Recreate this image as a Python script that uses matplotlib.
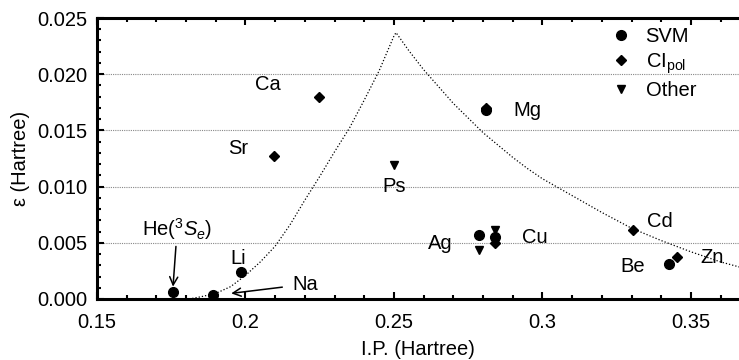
import matplotlib
matplotlib.use("Agg")
import matplotlib.pyplot as plt
from matplotlib.ticker import MultipleLocator, FixedLocator

plt.rcParams['font.family'] = ['Liberation Sans', 'DejaVu Sans']
plt.rcParams['mathtext.fontset'] = 'custom'
plt.rcParams['mathtext.rm'] = 'Liberation Sans'
plt.rcParams['mathtext.it'] = 'Liberation Sans:italic'

# SVM points
svm_names = ['He', 'Na', 'Li', 'Mg', 'Ag', 'Cu', 'Be']
svm_ip = [0.1756, 0.1890, 0.1985, 0.2810, 0.2786, 0.2840, 0.3426]
svm_eps = [0.00060, 0.00040, 0.00240, 0.01680, 0.00570, 0.00550, 0.00310]

# CI_pol points
ci_names = ['Sr', 'Ca', 'Mg', 'Cu', 'Cd', 'Zn']
ci_ip = [0.2096, 0.2248, 0.2810, 0.2840, 0.3305, 0.3453]
ci_eps = [0.01270, 0.01800, 0.01700, 0.00500, 0.00610, 0.00370]

# other methods
oth_names = ['Ps', 'Ag', 'Cu']
oth_ip = [0.2500, 0.2786, 0.2840]
oth_eps = [0.01190, 0.00440, 0.00610]

# dotted model curve
curve_ip = [0.181, 0.185, 0.190, 0.195, 0.200, 0.205, 0.210, 0.215, 0.220,
            0.225, 0.230, 0.235, 0.240, 0.245, 0.250, 0.2507, 0.255, 0.260,
            0.265, 0.270, 0.275, 0.280, 0.285, 0.290, 0.295, 0.300, 0.310,
            0.320, 0.330, 0.340, 0.350, 0.360, 0.367]
curve_eps = [0.0000, 0.0002, 0.0005, 0.0011, 0.0021, 0.0033, 0.0047, 0.0066,
             0.0088, 0.0109, 0.0131, 0.0152, 0.0177, 0.0203, 0.0234, 0.0237,
             0.0221, 0.0204, 0.0189, 0.0174, 0.0161, 0.0148, 0.0137, 0.0126,
             0.0116, 0.0107, 0.0092, 0.0077, 0.0063, 0.0052, 0.0042, 0.0033,
             0.0028]

# label texts and where they sit
lab_text = ['Ca', 'Sr', 'Mg', 'Ps', 'Ag', 'Cu', 'Cd', 'Be', 'Zn', 'Li']
lab_ip = [0.2076, 0.1975, 0.2951, 0.2500, 0.2655, 0.2975, 0.3396, 0.3305, 0.3570, 0.1975]
lab_eps = [0.0191, 0.0134, 0.0168, 0.0100, 0.0049, 0.0055, 0.0069, 0.0029, 0.0037, 0.0036]

fig = plt.figure(figsize=(7.39, 3.60), dpi=100)
ax = fig.add_axes([97 / 739, 61 / 360, 1 - 97 / 739, 281 / 360])

ax.plot(curve_ip, curve_eps, ls=(0, (1, 1.6)), color='black', lw=0.9, zorder=2)

ax.plot(svm_ip, svm_eps, 'o', color='black', ms=7, ls='none', label='SVM', zorder=3)
ax.plot(ci_ip, ci_eps, 'D', color='black', ms=4.8, ls='none', label=r'CI$_{\rm pol}$', zorder=3)
ax.plot(oth_ip, oth_eps, 'v', color='black', ms=6.2, ls='none', label='Other', zorder=3)

fs = 14.5
for t, x, y in zip(lab_text, lab_ip, lab_eps):
    ax.text(x, y, t, fontsize=fs, ha='center', va='center')

ax.annotate(r'He($^3S_e$)', xy=(0.1756, 0.0011), xytext=(0.1770, 0.0062),
            fontsize=fs, ha='center', va='center',
            arrowprops=dict(arrowstyle='->', color='black', lw=1.1,
                            shrinkA=1, shrinkB=0))
ax.annotate('Na', xy=(0.1952, 0.0005), xytext=(0.2200, 0.0013),
            fontsize=fs, ha='center', va='center',
            arrowprops=dict(arrowstyle='->', color='black', lw=1.1,
                            shrinkA=5, shrinkB=0))

ax.set_xlim(0.15, 0.3662)
ax.set_ylim(0.0, 0.025)
ax.xaxis.set_major_locator(FixedLocator([0.15, 0.2, 0.25, 0.3, 0.35]))
ax.set_xticklabels(['0.15', '0.2', '0.25', '0.3', '0.35'])
ax.xaxis.set_minor_locator(MultipleLocator(0.01))
ax.yaxis.set_major_locator(MultipleLocator(0.005))
ax.yaxis.set_minor_locator(MultipleLocator(0.001))
ax.set_yticklabels(['%.3f' % v for v in ax.get_yticks()])

ax.tick_params(which='both', direction='in', top=True, right=False,
               labelsize=fs, width=1.5)
ax.tick_params(axis='x', pad=10)
ax.tick_params(axis='y', pad=7)
ax.tick_params(which='major', length=5)
ax.tick_params(which='minor', length=3)

for s in ['left', 'bottom', 'top']:
    ax.spines[s].set_linewidth(2.2)
ax.spines['right'].set_visible(False)

ax.yaxis.grid(True, which='major', ls=(0, (1, 1)), color='#888888', lw=0.8)
ax.set_axisbelow(True)

ax.set_xlabel('I.P. (Hartree)', fontsize=fs, labelpad=6)
ax.set_ylabel('ε (Hartree)', fontsize=fs, labelpad=5)

leg = ax.legend(loc='upper left', bbox_to_anchor=(0.776, 1.018), frameon=False,
                fontsize=fs, handletextpad=0.6, labelspacing=0.25,
                handlelength=1.2, borderaxespad=0.3)

fig.savefig('out.png', dpi=100)
